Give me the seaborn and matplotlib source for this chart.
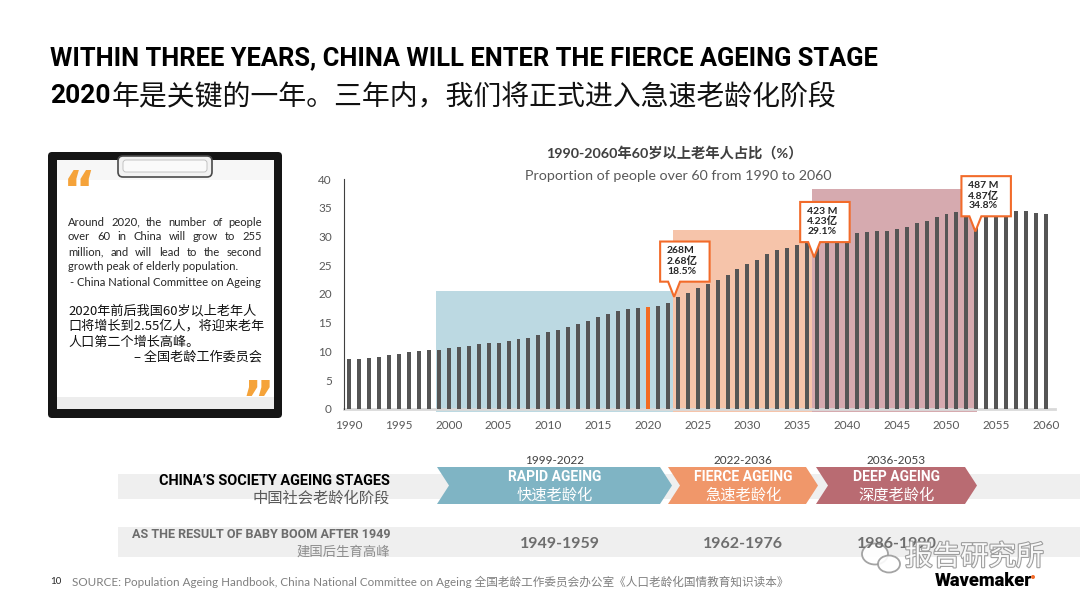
import matplotlib
matplotlib.use("Agg")
import matplotlib.pyplot as plt
import seaborn as sns
import pandas as pd
import numpy as np
from matplotlib.patches import Rectangle, Polygon, FancyBboxPatch, Ellipse
import matplotlib.patheffects as pe

# ---------------- data ----------------
years = list(range(1990, 2061))
share_60plus = [
    8.6, 8.7, 8.8, 9.0, 9.3, 9.5, 9.8, 10.0, 10.2, 10.3,
    10.5, 10.7, 11.0, 11.2, 11.4, 11.5, 11.8, 12.1, 12.4, 12.8,
    13.3, 13.7, 14.3, 14.8, 15.3, 16.0, 16.5, 17.0, 17.3, 17.6,
    17.8, 17.9, 18.4, 19.4, 20.2, 21.0, 21.7, 22.5, 23.4, 24.4,
    25.2, 26.0, 26.9, 27.6, 28.1, 28.6, 29.0, 29.4, 29.7, 30.0,
    30.3, 30.6, 30.8, 30.9, 31.0, 31.3, 31.7, 32.3, 32.8, 33.5,
    34.0, 34.3, 34.5, 34.7, 34.8, 34.8, 34.7, 34.5, 34.4, 34.2,
    33.9,
]
highlight_year = 2020
x_tick_years = list(range(1990, 2061, 5))
y_ticks = list(range(0, 41, 5))

stage_names = ["RAPID AGEING", "FIERCE AGEING", "DEEP AGEING"]
stage_names_cn = ["快速老龄化", "急速老龄化", "深度老龄化"]
stage_periods = ["1999-2022", "2022-2036", "2036-2053"]
stage_spans = [(1998.7, 2022.55), (2022.55, 2036.5), (2036.5, 2053.05)]
stage_heights = [20.5, 31.2, 38.3]
baby_boom_periods = ["1949-1959", "1962-1976", "1986-1990"]

callout_lines = [["268M", "2.68亿", "18.5%"],
                 ["423 M", "4.23亿", "29.1%"],
                 ["487 M", "4.87亿", "34.8%"]]
callout_tips = [(2022.63, 19.5), (2036.7, 26.4), (2052.9, 30.9)]

# ---------------- style ----------------
sns.set_style("white")
SANS = ["Lato", "Noto Sans CJK SC", "DejaVu Sans"]
NARROW = ["Liberation Sans Narrow", "Roboto", "Noto Sans CJK SC", "DejaVu Sans"]
CJK = ["Noto Sans CJK SC", "DejaVu Sans"]
plt.rcParams["font.family"] = SANS

shade_colors = ["#BCD9E2", "#F6C4AA", "#D6AAAF"]
chev_colors = ["#7FB4C4", "#F0976A", "#B96B72"]
ORANGE = "#F26B2A"

fig = plt.figure(figsize=(10.8, 6.08), dpi=100)
fig.patch.set_facecolor("white")
bg = fig.add_axes([0, 0, 1, 1], zorder=0)
bg.set_xlim(0, 1080)
bg.set_ylim(608, 0)
bg.axis("off")
R = fig.canvas.get_renderer()


def fit(t, target_w):
    w = t.get_window_extent(R).width
    t.set_fontsize(t.get_fontsize() * target_w / w)
    return t


def justify(text, x0, x1, y, **kw):
    words = text.split(" ")
    ts = [bg.text(0, y, w, **kw) for w in words]
    ws = [t.get_window_extent(R).width for t in ts]
    gap = (x1 - x0 - sum(ws)) / (len(words) - 1)
    x = x0
    for t, w in zip(ts, ws):
        t.set_x(x)
        x += w + gap


# ---------------- titles ----------------
t = bg.text(50, 58, "WITHIN THREE YEARS, CHINA WILL ENTER THE FIERCE AGEING STAGE",
            fontsize=18, fontweight="bold", family=NARROW, va="center", ha="left", color="black")
fit(t, 830)
t2 = bg.text(50, 96, "2020", fontsize=19, fontweight="bold", family=NARROW,
             va="center", ha="left", color="black")
w2020 = t2.get_window_extent(R).width
t3 = bg.text(50 + w2020 + 1, 96, "年是关键的一年。三年内，我们将正式进入急速老龄化阶段",
             fontsize=20, family=CJK, va="center", ha="left", color="#111111")
fit(t3, 725)

# ---------------- clipboard ----------------
bg.add_patch(FancyBboxPatch((48, 152), 234, 266, boxstyle="round,pad=0,rounding_size=4",
                            fc="#151515", ec="none"))
bg.add_patch(Rectangle((57, 160), 217, 249, fc="white", ec="none"))
bg.add_patch(Rectangle((57, 397), 217, 12, fc="#EDEDED", ec="none"))
bg.add_patch(Rectangle((57, 160), 217, 20, fc="#F7F7F7", ec="none"))
bg.add_patch(FancyBboxPatch((118, 156), 94, 21, boxstyle="round,pad=0,rounding_size=5",
                            fc="#F2F2F2", ec="#4A4A4A", lw=1.2))
bg.add_patch(FancyBboxPatch((123, 160), 84, 12, boxstyle="round,pad=0,rounding_size=3",
                            fc="#FAFAFA", ec="#BBBBBB", lw=0.6))
bg.text(79, 192, "\u201c", fontsize=36, fontweight="bold", family=["DejaVu Sans"],
        color="#F5A33A", ha="center", va="center")
bg.text(258, 402, "\u201d", fontsize=36, fontweight="bold", family=["DejaVu Sans"],
        color="#F5A33A", ha="center", va="center")

probe = bg.text(70, 282, "- China National Committee on Ageing", fontsize=8.5,
                family=SANS, va="center", ha="left", color="#262626")
fit(probe, 192)
efs = probe.get_fontsize()
eng = ["Around 2020, the number of people", "over 60 in China will grow to 255",
       "million, and will lead to the second"]
for i, line in enumerate(eng):
    justify(line, 68, 262, 222 + 15 * i, fontsize=efs, family=SANS, va="center",
            color="#262626")
bg.text(68, 267, "growth peak of elderly population.", fontsize=efs, family=SANS,
        va="center", ha="left", color="#262626")

c2 = bg.text(68, 326.5, "口将增长到2.55亿人，将迎来老年", fontsize=10, family=CJK,
             va="center", ha="left", color="#111111")
fit(c2, 196)
cfs = c2.get_fontsize()
bg.text(68, 311, "2020年前后我国60岁以上老年人", fontsize=cfs, family=CJK,
        va="center", ha="left", color="#111111")
bg.text(68, 342, "人口第二个增长高峰。", fontsize=cfs, family=CJK,
        va="center", ha="left", color="#111111")
bg.text(262, 357.5, "– 全国老龄工作委员会", fontsize=cfs, family=CJK,
        va="center", ha="right", color="#111111")

# ---------------- main chart ----------------
ax = fig.add_axes([344.3 / 1080, 199.3 / 608, 710.7 / 1080, 229.4 / 608], zorder=2)
ax.patch.set_alpha(0)

for (x0, x1), h, c in zip(stage_spans, stage_heights, shade_colors):
    ax.add_patch(Rectangle((x0, -0.6), x1 - x0, h + 0.6, fc=c, ec="none", zorder=1,
                           clip_on=False))

df = pd.DataFrame({"year": years, "share": share_60plus})
df["kind"] = np.where(df["year"] == highlight_year, "highlight", "base")
sns.barplot(data=df, x="year", y="share", hue="kind",
            palette={"base": "#555555", "highlight": "#F26B21"},
            native_scale=True, width=0.4, dodge=False, legend=False,
            saturation=1, ax=ax, zorder=3, linewidth=0)

ax.set_xlim(1989.5, 2060.9)
ax.set_ylim(0, 40)
ax.set_xticks(x_tick_years)
ax.set_xticklabels([str(y) for y in x_tick_years])
ax.set_yticks(y_ticks)
ax.set_yticklabels([str(v) for v in y_ticks])
ax.set_xlabel("")
ax.set_ylabel("")
ax.tick_params(axis="y", direction="in", length=3, width=0.8, color="#404040",
               pad=9, labelsize=8.5, labelcolor="#595959")
ax.tick_params(axis="x", length=0, pad=8, labelsize=8.5, labelcolor="#595959")
for s in ["top", "right"]:
    ax.spines[s].set_visible(False)
ax.spines["left"].set_color("#404040")
ax.spines["left"].set_linewidth(0.8)
ax.spines["bottom"].set_color("#D9D9D9")
ax.spines["bottom"].set_linewidth(2)
ax.spines["bottom"].set_zorder(2)

for (tx, ty), lines in zip(callout_tips, callout_lines):
    bx0 = tx - 1.4
    bx1 = bx0 + 4.97
    by0 = ty + 2.65
    by1 = by0 + 7.0
    pts = [(bx0, by1), (bx1, by1), (bx1, by0), (tx + 0.6, by0), (tx, ty),
           (tx - 0.6, by0), (bx0, by0)]
    ax.add_patch(Polygon(pts, closed=True, fc="white", ec=ORANGE, lw=1.5, zorder=6,
                         clip_on=False, joinstyle="miter"))
    for i, s in enumerate(lines):
        ax.text(bx0 + 0.7, by1 - 1.65 - 1.75 * i, s, fontsize=7.5, fontweight="bold",
                va="center", ha="left", zorder=7, family=SANS, color="#262626",
                clip_on=False)

ct = bg.text(674, 153, "1990-2060年60岁以上老年人占比（%）", fontsize=10, fontweight="bold",
             family=SANS, ha="center", va="center", color="#404040")
fit(ct, 258)
st = bg.text(678, 176, "Proportion of people over 60 from 1990 to 2060", fontsize=10,
             family=SANS, ha="center", va="center", color="#595959")
fit(st, 307)

# ---------------- bottom rows ----------------
bg.add_patch(Rectangle((118, 474), 962, 25, fc="#EFEFEF", ec="none"))
bg.add_patch(Rectangle((118, 527), 962, 30, fc="#EFEFEF", ec="none"))

r1 = bg.text(390, 481, "CHINA\u2019S SOCIETY AGEING STAGES", fontsize=11, fontweight="bold",
             family=NARROW, ha="right", va="center", color="black")
fit(r1, 233)
bg.text(390, 498, "中国社会老龄化阶段", fontsize=11, family=CJK, ha="right",
        va="center", color="#595959")
r2 = bg.text(390, 535, "AS THE RESULT OF BABY BOOM AFTER 1949", fontsize=9.5,
             fontweight="bold", family=NARROW, ha="right", va="center", color="#6D6D6D")
fit(r2, 262)
bg.text(390, 551.5, "建国后生育高峰", fontsize=9.6, family=CJK, ha="right",
        va="center", color="#8C8C8C")

chev_x = [(437, 672), (668, 818), (816, 977)]
d = 12
top, bot = 467, 504
mid = (top + bot) / 2
for (x0, x1), col, nm, cn, per, bb in zip(chev_x, chev_colors, stage_names,
                                          stage_names_cn, stage_periods, baby_boom_periods):
    pts = [(x0, top), (x1 - d, top), (x1, mid), (x1 - d, bot), (x0, bot), (x0 + d, mid)]
    bg.add_patch(Polygon(pts, closed=True, fc=col, ec="none"))
    cx = (x0 + x1) / 2
    bg.text(cx, 460, per, fontsize=8.5, family=SANS, ha="center", va="center", color="#404040")
    bg.text(cx, 477, nm, fontsize=10, fontweight="bold", family=NARROW, ha="center",
            va="center", color="white")
    bg.text(cx, 495, cn, fontsize=11, family=CJK, ha="center", va="center", color="white")
    bg.text(cx + (5 if cx < 600 else 0), 544, bb, fontsize=11.5, fontweight="bold",
            family=SANS, ha="center", va="center", color="#6E6E6E")

# watermark
wm = bg.text(905, 557, "报告研究所", fontsize=20, family=CJK, ha="left", va="center",
             color="white", alpha=0.95)
wm.set_path_effects([pe.withStroke(linewidth=1.6, foreground="#9A9A9A")])
bg.add_patch(Ellipse((875, 554), 26, 21, fc="white", ec="#9A9A9A", lw=1.3, alpha=0.9))
bg.add_patch(Ellipse((889, 564), 22, 17, fc="white", ec="#9A9A9A", lw=1.3, alpha=0.9))

# logo
wv = bg.text(935, 581, "Wavemaker", fontsize=12, fontweight="heavy",
             family=["Roboto", "DejaVu Sans"], ha="left", va="center", color="black")
fit(wv, 97)
bg.add_patch(Ellipse((1033, 577), 4, 4, fc=ORANGE, ec="none"))

# footer
bg.text(50, 582, "10", fontsize=7, family=SANS, ha="left", va="center", color="#262626")
ft = bg.text(72, 582, "SOURCE: Population Ageing Handbook, China National Committee on Ageing "
             "全国老龄工作委员会办公室《人口老龄化国情教育知识读本》", fontsize=8,
             family=SANS, ha="left", va="center", color="#7F7F7F")
fit(ft, 715)

fig.savefig("out.png", dpi=100, facecolor="white")
